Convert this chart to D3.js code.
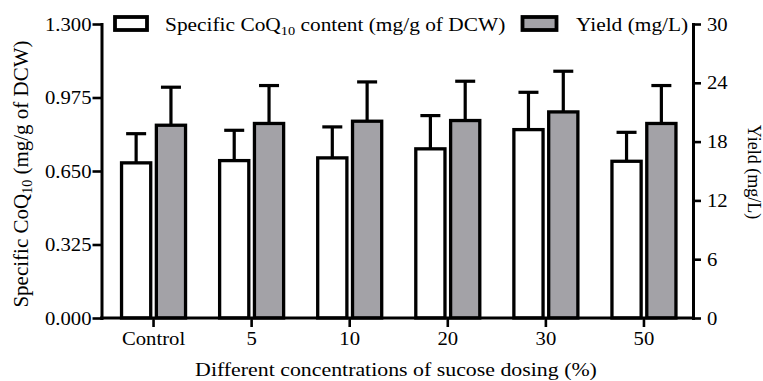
<!DOCTYPE html>
<html><head><meta charset="utf-8">
<script src="https://cdn.jsdelivr.net/npm/d3@7"></script>
<style>
html,body{margin:0;padding:0;background:#fff;}
svg{display:block;}
text{font-family:"Liberation Serif","Times New Roman",Times,serif;fill:#000;}
</style></head><body>
<svg id="c" width="763" height="381"></svg>
<script>
const categories = ["Control","5","10","20","30","50"];
const coqValues = [0.686,0.696,0.708,0.748,0.833,0.693];
const coqErrors = [0.129,0.134,0.137,0.147,0.165,0.128];
const yieldValues = [19.67,19.85,20.08,20.15,21.03,19.85];
const yieldErrors = [3.88,3.87,4.01,4.01,4.15,3.87];
const leftTicks = [0,0.325,0.65,0.975,1.3];
const rightTicks = [0,6,12,18,24,30];
const seriesNames = ["coq","yield"];

const SX = 1.15; // horizontal stretch of text
const FS = 18;
const svg = d3.select("#c");
const axL = 101.5, axR = 693, yBase = 318, yTop = 24;

const x = d3.scaleBand().domain(categories).range([104.5, 693]);
const x1 = d3.scaleBand().domain(seriesNames).range([-32, 32]).paddingInner(0.162);
const yL = d3.scaleLinear().domain([0, 1.3]).range([yBase, yTop]);
const yR = d3.scaleLinear().domain([0, 30]).range([yBase, yTop]);

const rows = categories.map((c,i)=>({c, coq:coqValues[i], coqE:coqErrors[i], yl:yieldValues[i], ylE:yieldErrors[i]}));

// bars
const g = svg.append("g");
rows.forEach(r=>{
  const cx = x(r.c) + x.bandwidth()/2;
  const specs = [
    {s:"coq", v:r.coq, e:r.coqE, y:yL, fill:"#ffffff"},
    {s:"yield", v:r.yl, e:r.ylE, y:yR, fill:"#a3a2a7"}
  ];
  specs.forEach(sp=>{
    const bx = cx + x1(sp.s);
    const bw = x1.bandwidth();
    const top = sp.y(sp.v), capY = sp.y(sp.v+sp.e);
    const mid = bx + bw/2;
    g.append("line").attr("x1",mid).attr("x2",mid).attr("y1",top).attr("y2",capY)
      .attr("stroke","#000").attr("stroke-width",3.2);
    g.append("line").attr("x1",mid-10).attr("x2",mid+10).attr("y1",capY).attr("y2",capY)
      .attr("stroke","#000").attr("stroke-width",3.2);
    g.append("rect").attr("x",bx).attr("y",top).attr("width",bw).attr("height",yBase-top)
      .attr("fill",sp.fill).attr("stroke","#000").attr("stroke-width",3.3);
  });
});

// axes
function styleAxis(sel){
  sel.select(".domain").attr("stroke","#000").attr("stroke-width",3).attr("stroke-linecap","square");
  sel.selectAll(".tick line").attr("stroke","#000").attr("stroke-width",2.6);
  sel.selectAll(".tick text").attr("font-size",FS).attr("fill","#000");
}
const gL = svg.append("g").attr("transform",`translate(${axL},0)`)
  .call(d3.axisLeft(yL).tickValues(leftTicks).tickFormat(d3.format(".3f")).tickSize(9).tickSizeOuter(0));
styleAxis(gL);
gL.selectAll(".tick text").attr("x",null).attr("dy","0.34em").attr("transform",`translate(-10,0) scale(${SX},1)`);

const gR = svg.append("g").attr("transform",`translate(${axR},0)`)
  .call(d3.axisRight(yR).tickValues(rightTicks).tickFormat(d3.format("d")).tickSize(8).tickSizeOuter(0));
styleAxis(gR);
gR.selectAll(".tick text").attr("x",null).attr("dy","0.34em").attr("transform",`translate(14,0) scale(${SX},1)`);

const gB = svg.append("g").attr("transform",`translate(0,${yBase})`)
  .call(d3.axisBottom(x).tickSize(9).tickSizeOuter(0));
styleAxis(gB);
gB.select(".domain").remove();
gB.selectAll(".tick text").attr("y",null).attr("dy",null).attr("transform",`translate(0,27) scale(${SX},1)`);
svg.append("line").attr("x1",axL).attr("x2",axR).attr("y1",yBase).attr("y2",yBase)
  .attr("stroke","#000").attr("stroke-width",3).attr("stroke-linecap","square");

// helper for text
function txt(xp, yp, sx, rot, anchor, fs){
  return svg.append("text").attr("font-size",fs||FS).attr("text-anchor",anchor||"start")
    .attr("transform",`translate(${xp},${yp}) scale(${sx},1)` + (rot?` rotate(${rot})`:""));
}
function coqText(t, pre, post, subFs, shift){
  t.append("tspan").text(pre);
  t.append("tspan").attr("font-size",subFs).attr("dy",shift).text("10");
  t.append("tspan").attr("dy",-shift).text(post);
}

// left title
coqText(txt(27.5,174,1,-90,"middle",21), "Specific CoQ", " (mg/g of DCW)", 14, 4.5);
// right title
txt(747.5,172,1,90,"middle",18).text("Yield (mg/L)");
// x title
txt(396,376,SX,0,"middle",19).text("Different concentrations of sucose dosing (%)");

// legend
svg.append("rect").attr("x",115).attr("y",17).attr("width",32).attr("height",13)
  .attr("fill","#fff").attr("stroke","#000").attr("stroke-width",3.8);
coqText(txt(165,30.5,SX,0,"start",18.6), "Specific CoQ", " content (mg/g of DCW)", 12.5, 4);
svg.append("rect").attr("x",522.5).attr("y",17).attr("width",34).attr("height",13)
  .attr("fill","#a3a2a7").attr("stroke","#000").attr("stroke-width",3.8);
txt(576,30.5,SX,0,"start",18.6).text("Yield (mg/L)");
</script>
</body></html>
